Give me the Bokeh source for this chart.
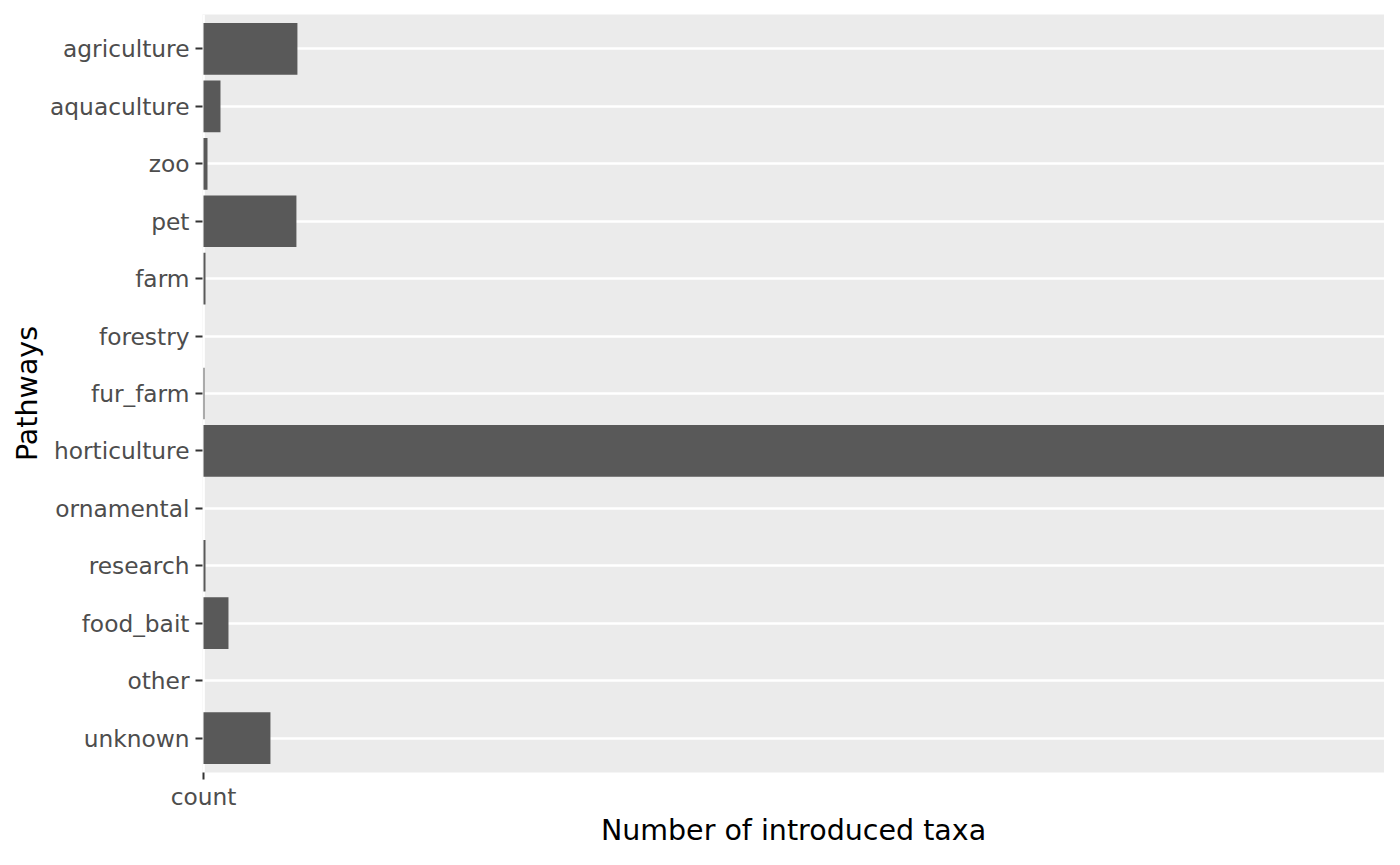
from bokeh.plotting import figure
from bokeh.models import FactorRange, Range1d, FixedTicker
from bokeh.embed import file_html
from bokeh.resources import INLINE

pathways = ["agriculture", "aquaculture", "zoo", "pet", "farm", "forestry",
            "fur_farm", "horticulture", "ornamental", "research", "food_bait",
            "other", "unknown"]
counts = [94, 17, 4, 93, 2, 0, 1, 1250, 0, 2, 25, 0, 67]

FONT = "DejaVu Sans"

factors = list(reversed(pathways))
p = figure(width=1384, height=849, output_backend="svg", toolbar_location=None,
           y_range=FactorRange(factors=factors, range_padding=0.1,
                               range_padding_units="absolute"),
           x_range=Range1d(-1, 1182),
           min_border_left=202, min_border_right=0, min_border_top=14,
           min_border_bottom=0)

p.background_fill_color = "#EBEBEB"
p.border_fill_color = "white"
p.outline_line_color = None

p.hbar(y=pathways, right=counts, left=0, height=0.9, fill_color="#595959",
       line_color=None)

# grids
p.ygrid.grid_line_color = "white"
p.ygrid.grid_line_width = 2.7
p.xgrid.ticker = FixedTicker(ticks=[0])
p.xgrid.grid_line_color = "white"
p.xgrid.grid_line_width = 2.7
p.xgrid.level = "underlay"
p.ygrid.level = "underlay"

# x axis
p.xaxis.ticker = FixedTicker(ticks=[0])
p.xaxis.major_label_overrides = {0: "count"}
p.xaxis.minor_tick_line_color = None
p.xaxis.axis_label = "Number of introduced taxa"

for ax in (p.xaxis[0], p.yaxis[0]):
    ax.axis_line_color = None
    ax.major_tick_line_color = "#333333"
    ax.major_tick_line_width = 2
    ax.major_tick_out = 7
    ax.major_tick_in = 0
    ax.major_label_text_font = FONT
    ax.major_label_text_font_size = "23.3px"
    ax.major_label_text_color = "#4D4D4D"
    ax.axis_label_text_font = FONT
    ax.axis_label_text_font_size = "28.5px"
    ax.axis_label_text_font_style = "normal"
    ax.axis_label_text_color = "black"

p.yaxis.axis_label = "Pathways"
p.yaxis.major_label_standoff = 6
p.yaxis.axis_label_standoff = 3
p.xaxis.major_label_standoff = 3
p.xaxis.axis_label_standoff = 1

open("out.html", "w").write(file_html(p, INLINE))
